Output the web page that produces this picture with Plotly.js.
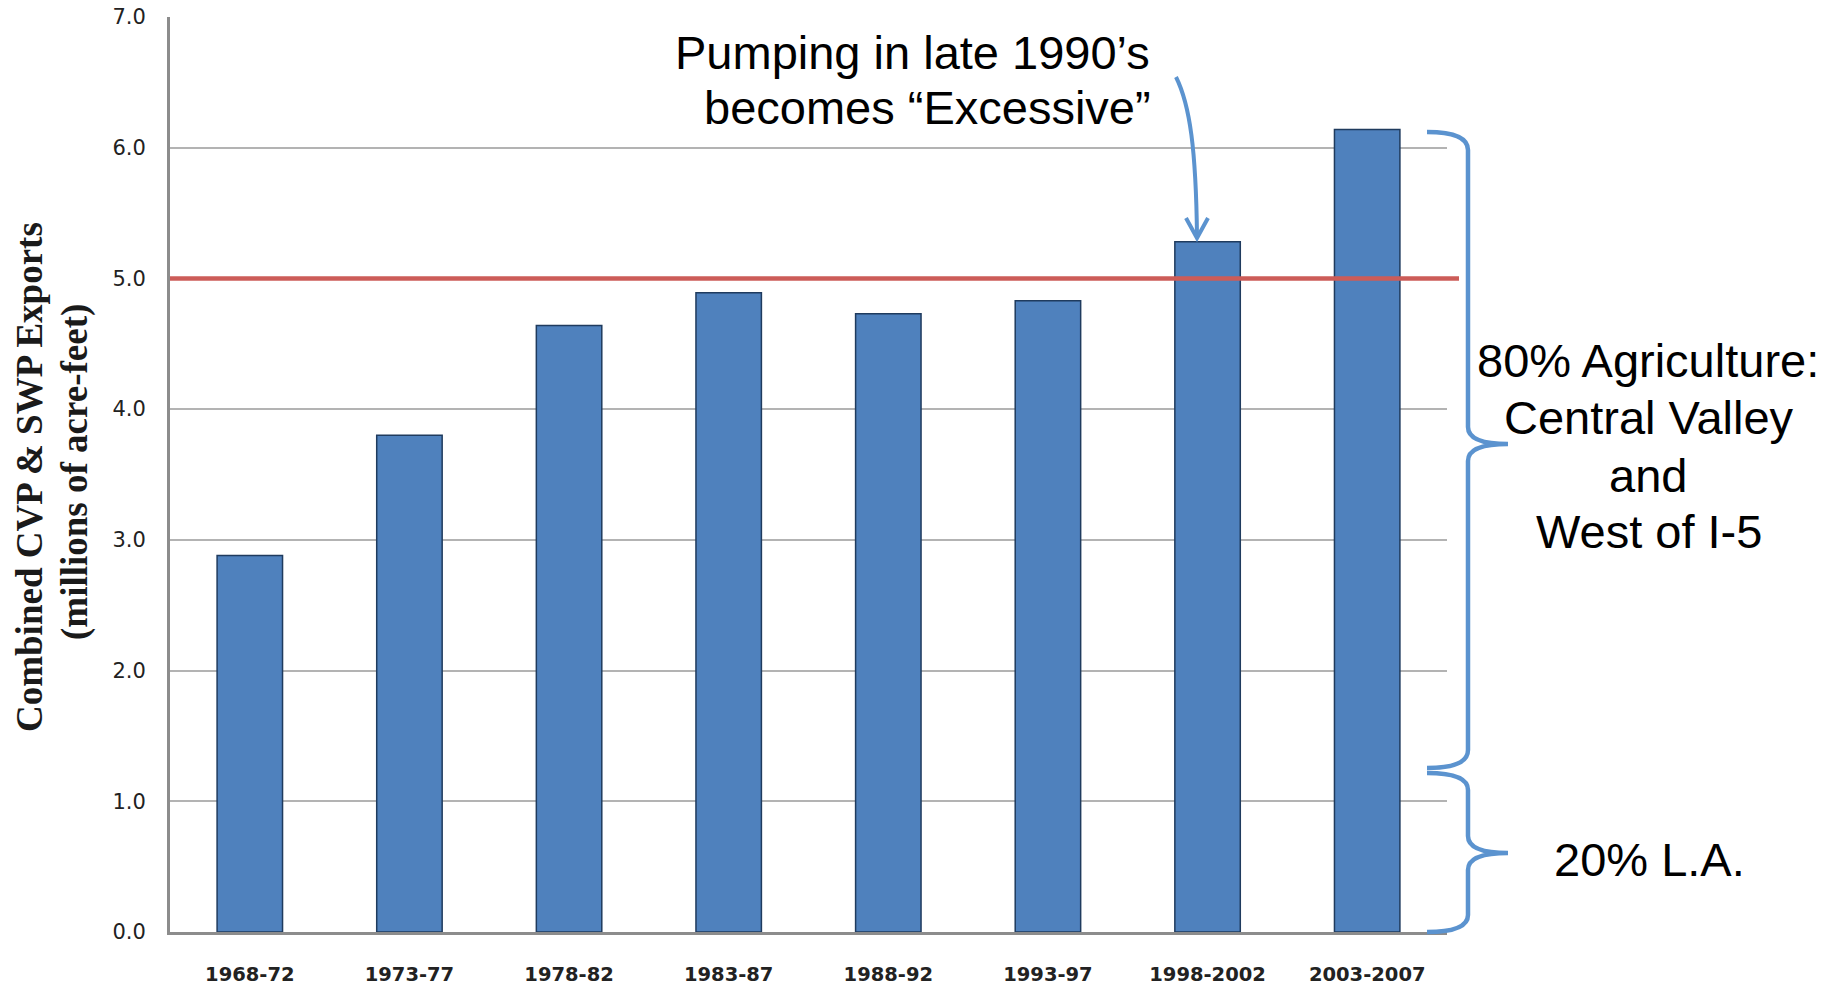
<!DOCTYPE html>
<html>
<head>
<meta charset="utf-8">
<script src="https://cdn.plot.ly/plotly-3.0.1.min.js"></script>
<style>
  html, body { margin: 0; padding: 0; background: #fff; }
  #chart { width: 1833px; height: 987px; }
</style>
</head>
<body>
<div id="chart"></div>
<script>
// ---- data ----
const periods = ["1968-72", "1973-77", "1978-82", "1983-87", "1988-92", "1993-97", "1998-2002", "2003-2007"];
const exportsMAF = [2.88, 3.80, 4.64, 4.89, 4.73, 4.83, 5.28, 6.14];
const excessiveThreshold = 5.0;
const yTickValues = [0, 1, 2, 3, 4, 5, 6, 7];
const yTitleLines = ["Combined CVP & SWP Exports", "(millions of acre-feet)"];
const calloutLines = ["Pumping in late 1990\u2019s", "becomes \u201cExcessive\u201d"];
const agLines = ["80% Agriculture:", "Central Valley", "and", "West of I-5"];
const laLine = "20% L.A.";

// ---- layout geometry (pixels) ----
const W = 1833, H = 987;
const M = { l: 170, r: 386, t: 17, b: 55 };
const plotW = W - M.l - M.r, plotH = H - M.t - M.b;
const px = x => (x - M.l) / plotW;          // pixel -> paper x
const py = y => (H - M.b - y) / plotH;      // pixel -> paper y
const path = pts => pts.map(s => {
  if (typeof s === 'string') return s;
  return px(s[0]).toFixed(5) + ',' + py(s[1]).toFixed(5);
}).join(' ');

const blue = '#5b93cf';

const trace = {
  type: 'bar',
  x: periods,
  y: exportsMAF,
  marker: { color: '#4f81bd', line: { color: '#1f3b5e', width: 1.5 } },
  hoverinfo: 'none'
};

const annText = (text, x, y, size, opts) => Object.assign({
  text: text, xref: 'paper', yref: 'paper', x: px(x), y: py(y),
  xanchor: 'center', yanchor: 'middle', showarrow: false,
  font: { family: 'Liberation Sans, Arial, sans-serif', size: size, color: '#000' }
}, opts || {});

const titleFont = { family: 'Liberation Serif, Times New Roman, serif', size: 37, color: '#1a1a1a', weight: 'bold' };

const annotations = [
  annText(yTitleLines[0], 29, 477, 37, { textangle: -90, font: titleFont }),
  annText(yTitleLines[1], 75, 472, 37, { textangle: -90, font: titleFont }),
  annText(calloutLines[0], 912, 52, 47),
  annText(calloutLines[1], 928, 107, 47),
  annText(agLines[0], 1648, 360, 47),
  annText(agLines[1], 1649, 417, 47),
  annText(agLines[2], 1648, 475, 47),
  annText(agLines[3], 1649, 531, 47),
  annText(laLine, 1649, 859, 47)
];

const shapes = [
  // threshold line
  { type: 'line', xref: 'paper', yref: 'y', x0: 0, x1: px(1459), y0: excessiveThreshold, y1: excessiveThreshold,
    line: { color: '#cc5c58', width: 4.5 }, layer: 'above' },
  // curved callout arrow
  { type: 'path', xref: 'paper', yref: 'paper',
    path: path(['M', [1176, 77], 'C', [1190, 105], [1196, 150], [1197, 236]]),
    line: { color: blue, width: 4 } },
  { type: 'path', xref: 'paper', yref: 'paper',
    path: path(['M', [1186, 218], 'L', [1197, 238], 'L', [1208, 218]]),
    line: { color: blue, width: 4 } },
  // upper brace
  { type: 'path', xref: 'paper', yref: 'paper',
    path: path(['M', [1427, 132], 'Q', [1468, 132], [1468, 150], 'L', [1468, 427],
                'Q', [1468, 444], [1508, 444], 'Q', [1468, 444], [1468, 461],
                'L', [1468, 750], 'Q', [1468, 768], [1427, 768]]),
    line: { color: blue, width: 4.5 } },
  // lower brace
  { type: 'path', xref: 'paper', yref: 'paper',
    path: path(['M', [1427, 773], 'Q', [1468, 773], [1468, 790], 'L', [1468, 836],
                'Q', [1468, 853], [1508, 853], 'Q', [1468, 853], [1468, 870],
                'L', [1468, 915], 'Q', [1468, 932], [1427, 932]]),
    line: { color: blue, width: 4.5 } }
];

const layout = {
  width: W, height: H,
  margin: { l: M.l, r: M.r, t: M.t, b: M.b, pad: 0 },
  paper_bgcolor: '#fff', plot_bgcolor: '#fff',
  showlegend: false,
  bargap: 0.59,
  xaxis: {
    type: 'category', categoryorder: 'array', categoryarray: periods,
    range: [-0.5, periods.length - 0.5],
    showline: true, linecolor: '#8c8c8c', linewidth: 3,
    ticks: '', showgrid: false, zeroline: false,
    tickfont: { family: 'DejaVu Sans, sans-serif', size: 19.5, color: '#222', weight: 'bold' },
    ticklabelstandoff: 23
  },
  yaxis: {
    range: [0, 7], tickvals: yTickValues, tickformat: '.1f',
    showgrid: true, gridcolor: '#b3b3b3', gridwidth: 2,
    showline: true, linecolor: '#8c8c8c', linewidth: 3,
    zeroline: false, ticks: '',
    tickfont: { family: 'DejaVu Sans, sans-serif', size: 21, color: '#222' },
    ticklabelstandoff: 17
  },
  annotations: annotations,
  shapes: shapes
};

Plotly.newPlot('chart', [trace], layout, { staticPlot: true, displayModeBar: false });
</script>
</body>
</html>
